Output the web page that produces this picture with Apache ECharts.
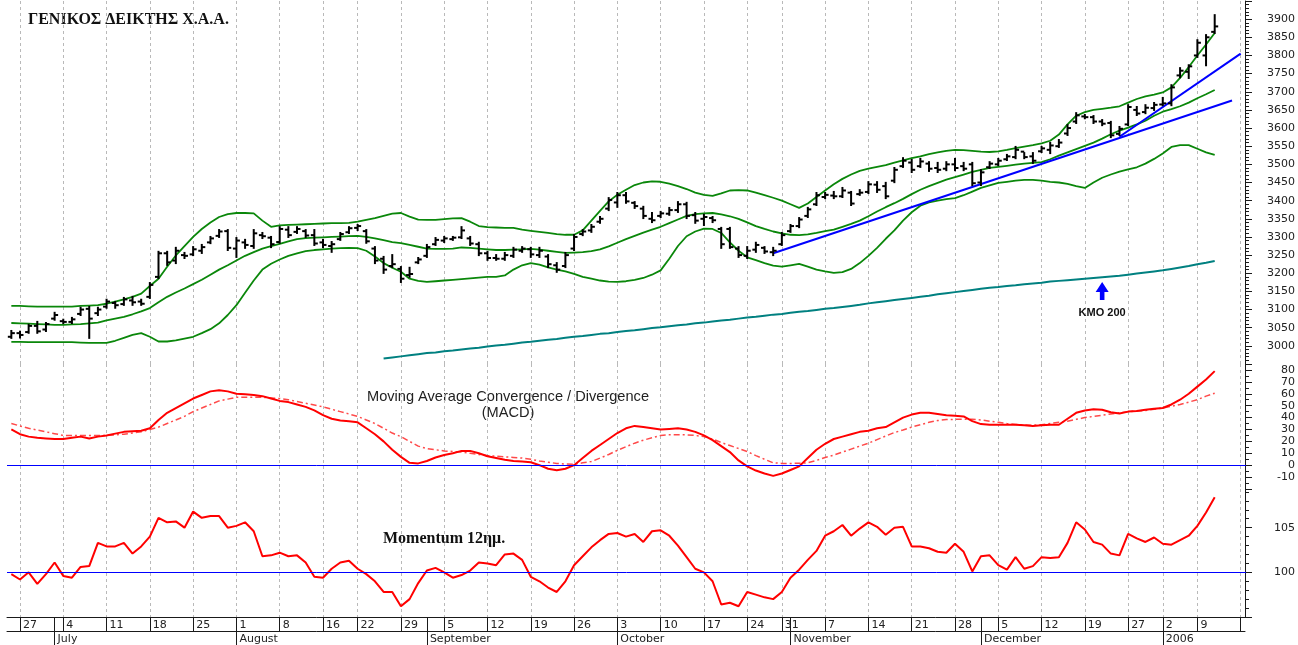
<!DOCTYPE html>
<html>
<head>
<meta charset="utf-8">
<title>ΓΕΝΙΚΟΣ ΔΕΙΚΤΗΣ Χ.Α.Α.</title>
<script src="https://cdn.jsdelivr.net/npm/echarts@6/dist/echarts.min.js"></script>
<style>
    html, body { margin: 0; padding: 0; background: #fff; }
    #chart { width: 1298px; height: 645px; }
</style>
</head>
<body>
<div id="chart"></div>
<script>
(function () {
    'use strict';

    // trading calendar (Athens exchange), three empty slots at the end
    var firstDay = '2005-06-24';
    var holidays = ['2005-08-15', '2005-10-28', '2005-12-26', '2006-01-06'];
    var slotCount = 143;
    var monthNames = ['2006', 'February', 'March', 'April', 'May', 'June', 'July',
                      'August', 'September', 'October', 'November', 'December'];

    // [open, close, low, high]
    var bars = [
        [3025,3035,3022,3041],[3035,3030,3023,3039],[3038,3055,3036,3058],[3055,3040,3036,3066],[3045,3060,3041,3063],
        [3075,3085,3072,3091],[3068,3066,3063,3072],[3066,3073,3063,3077],[3088,3100,3085,3105],[3102,3075,3022,3107],
        [3090,3100,3085,3105],[3108,3122,3105,3127],[3118,3112,3105,3121],[3115,3128,3113,3132],[3125,3120,3113,3135],
        [3122,3116,3113,3127],[3135,3168,3132,3173],[3190,3255,3187,3259],[3255,3230,3223,3259],[3235,3262,3228,3270],
        [3250,3248,3242,3256],[3252,3266,3250,3272],[3262,3272,3256,3278],[3285,3296,3283,3300],[3303,3315,3300,3319],
        [3316,3270,3264,3319],[3268,3290,3245,3297],[3285,3278,3270,3292],[3275,3310,3270,3319],[3305,3302,3297,3311],
        [3298,3280,3272,3300],[3286,3322,3284,3327],[3320,3305,3300,3327],[3314,3322,3311,3327],[3316,3304,3300,3319],
        [3305,3282,3278,3319],[3285,3278,3272,3292],[3275,3280,3259,3286],[3294,3308,3292,3311],[3313,3324,3311,3327],
        [3325,3330,3319,3333],[3316,3288,3284,3319],[3268,3235,3228,3272],[3240,3210,3201,3245],[3220,3225,3217,3250],
        [3212,3185,3176,3217],[3195,3198,3190,3215],[3230,3238,3228,3242],[3248,3272,3245,3278],[3280,3292,3278,3297],
        [3290,3296,3286,3300],[3294,3298,3292,3300],[3299,3318,3297,3327],[3296,3282,3278,3300],[3280,3255,3250,3284],
        [3255,3242,3237,3259],[3242,3240,3237,3250],[3240,3250,3237,3256],[3248,3265,3245,3270],[3262,3268,3259,3272],
        [3266,3252,3245,3270],[3250,3262,3245,3270],[3246,3225,3217,3250],[3222,3210,3204,3228],[3220,3250,3217,3256],
        [3268,3300,3264,3305],[3308,3315,3305,3319],[3318,3328,3314,3333],[3342,3350,3339,3355],[3378,3402,3374,3407],
        [3395,3415,3383,3421],[3415,3398,3394,3421],[3394,3385,3380,3396],[3378,3358,3352,3383],[3350,3346,3341,3366],
        [3358,3365,3355,3369],[3364,3374,3361,3380],[3374,3390,3369,3396],[3390,3358,3352,3394],[3360,3345,3339,3366],
        [3350,3355,3333,3361],[3352,3346,3341,3355],[3322,3280,3270,3325],[3322,3272,3270,3325],[3268,3250,3245,3272],
        [3248,3262,3242,3272],[3265,3278,3259,3284],[3270,3260,3256,3272],[3258,3262,3250,3270],[3280,3305,3278,3311],
        [3316,3330,3314,3333],[3330,3348,3327,3352],[3358,3376,3355,3380],[3390,3415,3388,3421],[3410,3416,3407,3421],
        [3414,3412,3407,3424],[3412,3428,3410,3435],[3422,3392,3388,3424],[3418,3422,3416,3429],[3424,3445,3421,3451],
        [3444,3430,3424,3451],[3440,3412,3407,3449],[3455,3485,3451,3490],[3495,3510,3493,3517],[3505,3485,3479,3512],
        [3495,3508,3493,3515],[3502,3488,3482,3506],[3490,3485,3479,3504],[3488,3500,3484,3506],[3500,3490,3484,3515],
        [3495,3488,3484,3504],[3500,3448,3443,3504],[3450,3478,3443,3484],[3492,3502,3490,3506],[3500,3510,3498,3515],
        [3514,3522,3512,3526],[3520,3540,3517,3548],[3535,3520,3517,3531],[3522,3510,3504,3531],[3536,3544,3534,3548],
        [3540,3552,3531,3559],[3550,3560,3548,3567],[3585,3600,3581,3608],[3618,3635,3614,3641],[3632,3630,3627,3636],
        [3630,3618,3614,3633],[3618,3612,3608,3622],[3614,3580,3575,3617],[3584,3598,3581,3603],[3610,3658,3608,3663],
        [3650,3640,3636,3658],[3644,3656,3641,3663],[3655,3664,3650,3669],[3665,3668,3663,3683],[3668,3712,3663,3718],
        [3745,3758,3740,3765],[3755,3770,3738,3773],[3800,3835,3796,3842],[3800,3850,3773,3856],[3865,3880,3862,3911]
    ];

    // Bollinger bands
    var bandUpper = [
        3110,3110,3109,3108,3108,3108,3108,3108,3110,3111, 3112,3116,3122,3128,3135,3144,3165,3185,3218,3249,
        3275,3300,3322,3340,3355,3363,3366,3366,3365,3345, 3328,3332,3333,3334,3335,3336,3337,3338,3338,3339,
        3342,3347,3352,3358,3364,3366,3356,3348,3347,3347, 3349,3351,3352,3342,3330,3327,3326,3325,3325,3320,
        3317,3314,3311,3308,3306,3306,3318,3345,3372,3398, 3416,3430,3443,3450,3453,3452,3447,3440,3432,3422,
        3416,3413,3420,3428,3429,3428,3422,3415,3408,3400, 3390,3380,3392,3410,3428,3445,3460,3472,3482,3488,
        3493,3498,3505,3511,3517,3522,3528,3533,3537,3540, 3539,3537,3535,3534,3536,3540,3545,3549,3553,3558,
        3565,3582,3610,3634,3644,3650,3653,3656,3660,3670, 3680,3687,3692,3698,3712,3738,3768,3800,3830,3862
    ];
    var bandMid = [
        3063,3062,3061,3060,3059,3058,3058,3059,3060,3062, 3064,3070,3075,3080,3087,3095,3104,3120,3135,3147,
        3158,3170,3182,3196,3210,3222,3235,3248,3258,3268, 3275,3281,3288,3294,3297,3298,3299,3300,3301,3302,
        3303,3300,3296,3291,3286,3283,3278,3273,3268,3267, 3267,3268,3271,3270,3268,3266,3264,3264,3265,3266,
        3267,3265,3262,3259,3256,3257,3258,3261,3266,3274, 3284,3294,3303,3312,3320,3328,3338,3348,3358,3363,
        3365,3366,3362,3357,3350,3340,3330,3322,3315,3310, 3306,3305,3307,3311,3316,3320,3328,3336,3345,3357,
        3370,3382,3393,3405,3418,3430,3440,3449,3458,3465, 3472,3479,3485,3490,3493,3496,3499,3502,3504,3506,
        3514,3524,3533,3542,3551,3560,3571,3583,3593,3601, 3610,3620,3634,3645,3652,3660,3670,3682,3693,3705
    ];
    var bandLower = [
        3011,3011,3010,3010,3010,3010,3010,3010,3009,3008, 3008,3008,3014,3022,3030,3035,3025,3012,3012,3015,
        3020,3025,3035,3046,3062,3085,3112,3146,3180,3210, 3226,3238,3248,3255,3261,3264,3266,3268,3269,3270,
        3269,3262,3246,3228,3215,3204,3185,3179,3176,3178, 3180,3182,3184,3186,3188,3190,3190,3194,3210,3222,
        3228,3224,3216,3210,3205,3198,3190,3185,3180,3177, 3176,3178,3182,3187,3196,3208,3240,3275,3302,3315,
        3323,3322,3311,3285,3262,3244,3236,3228,3221,3218, 3222,3226,3218,3210,3205,3201,3203,3212,3228,3248,
        3270,3295,3318,3345,3368,3386,3395,3400,3404,3407, 3415,3425,3435,3442,3449,3452,3455,3457,3457,3455,
        3452,3450,3446,3440,3435,3450,3463,3472,3480,3486, 3492,3502,3515,3530,3548,3553,3553,3543,3533,3526
    ];

    // 200-day moving average (KMO 200), starts at trading day 43
    var ma200Start = 43;
    var ma200 = [
        2965,2968,2971,2974,2977,2980,2982,
        2985,2987,2990,2993,2995,2998,3001,3003,3006,3009, 3011,3014,3017,3019,3022,3025,3027,3030,3033,3035,
        3038,3041,3043,3046,3049,3051,3054,3057,3059,3062, 3064,3067,3070,3072,3075,3078,3080,3083,3086,3088,
        3091,3094,3096,3099,3102,3104,3107,3110,3113,3117, 3120,3123,3126,3129,3132,3135,3138,3142,3145,3148,
        3151,3154,3157,3160,3162,3165,3167,3170,3172,3174, 3177,3179,3181,3183,3185,3187,3189,3191,3193,3196,
        3199,3202,3205,3208,3212,3216,3220,3225,3229,3234
    ];

    // trend lines: [day index, price]
    var trendLong = [[88, 3255], [141, 3676]];
    var trendSteep = [[128, 3576], [142, 3805]];
    var kmoArrow = [126, 3151];

    var macd = [
        30,26,24,23,22.5,22,22,23,24,22.5, 24,25,26.5,28,28.5,29,31,38,44,48,
        52,56,59,62,63,62,60,59.5,59,58, 56,54,53,51,49,46,42,39,37.5,37,
        36,31,26,20,13,7,2,1.5,3.5,6.5, 8.5,10,12,12,10,7.5,6,4.5,3.5,3,
        2.5,0,-3,-4.2,-3,0,6,12,17,22, 27,31,33,32,31,30,30.5,31,30,28,
        25,21,16,11,4,-1,-4.5,-7,-9,-7, -4,-1,6,13,18,22,24,26,28,29,
        31,32,36,40,42.5,44,44,43,42,41.5, 41,37,34.5,34,34,34,34,33.5,33,33.5,
        34,34,39,44,46,47,46.5,44.5,43.5,45, 45.5,46.5,47.5,48,51,55,60,66,72,79
    ];
    var macdSignal = [
        35,33,31,29.5,28,26.5,25,25,25,25, 25,25,25.5,26,27,28,30,32,35,38,
        41,45,48,51,54,55.5,57,57,57,57, 56.5,56,55,53.5,52,50.5,49,47,45,43,
        41,38,35,31,27,24,20,16,14,13, 12,11.5,11,10,9,8,7.6,7,6.5,6,
        5,3.5,2.5,1.5,1,0.8,2,3,6,9, 12.5,15.5,18.5,21,23,25,25.5,25.5,25.5,25,
        24,22,19,16.5,14,11.5,8,5,2,1.5, 1.5,1.6,2,4,6.5,8.5,11,13.5,16,18.5,
        21.5,24.5,27.5,29.5,32,34,36,37.5,38.3,38.5, 38.6,38.6,38,37,36,35,34.2,33.8,33.6,34,
        35,36,37,38.5,40,41,42,43,44,45, 45.5,46,47,48,49.5,51,53,55,58,60.5
    ];
    var macdBase = 0;

    var momentum = [
        99.8,99.2,100,98.7,99.8,101.1,99.6,99.4,100.6,100.7, 103.3,102.9,102.9,103.3,102.1,102.9,104,106.1,105.6,105.7,
        105,106.8,106.1,106.3,106.3,105,105.2,105.6,104.6,101.8, 101.9,102.2,101.8,101.9,101.1,99.5,99.4,100.4,101.1,101.3,
        100.4,99.8,99,97.8,97.8,96.2,97,98.8,100.2,100.5, 100,99.4,99.7,100.2,101.1,101,100.8,102,102.1,101.4,
        99.5,99,98.3,97.8,99,100.8,101.8,102.8,103.6,104.3, 104.4,104,104.3,103.4,104.6,104.7,104.1,103,101.7,100.4,
        100,99,96.4,96.6,96.2,97.8,97.5,97.2,97,97.8, 99.4,100.3,101.4,102.4,104.1,104.6,105.3,104.1,104.9,105.6,
        105.1,104.2,105,105.1,102.9,102.9,102.7,102.3,102.2,103.2, 102.3,100.1,101.8,101.9,100.8,100.3,101.7,100.4,100.7,101.7,
        101.6,101.7,103.3,105.6,104.8,103.4,103.1,102.1,101.9,104.3, 103.8,103.4,103.9,103.2,103.1,103.6,104.1,105.2,106.7,108.4
    ];
    var momentumBase = 100;

    var priceLabels = [3000, 3900];
    var macdLabels = [-10, 80];
    var momentumLabels = [100, 105];

    var RED = '#ff0000';
    var BLUE = '#0000ff';
    var GREEN = '#0a870a';
    var INK = '#1a1a1a';
    var LABEL_FONT = 'DejaVu Sans';
    var PLOT_LEFT = 7, PLOT_RIGHT = 52;

    // ---- calendar ----
    var days = [];
    var d = new Date(firstDay + 'T00:00:00Z');
    while (days.length < slotCount) {
        var iso = d.toISOString().slice(0, 10);
        var wd = d.getUTCDay();
        if (wd !== 0 && wd !== 6 && holidays.indexOf(iso) < 0) days.push(iso);
        d.setUTCDate(d.getUTCDate() + 1);
    }
    var weekStart = days.map(function (s, i) {
        if (i === 0) return false;
        return new Date(s + 'T00:00:00Z').getUTCDay() < new Date(days[i - 1] + 'T00:00:00Z').getUTCDay();
    });
    var monthStart = days.map(function (s, i) {
        return i > 0 && s.slice(5, 7) !== days[i - 1].slice(5, 7);
    });

    var gridLines = {
        show: true,
        alignWithLabel: true,
        interval: function (i) { return weekStart[i]; },
        lineStyle: { color: '#b9b9b9', type: [3, 3], width: 1 }
    };

    function plainXAxis(gridIndex) {
        return {
            type: 'category', gridIndex: gridIndex, data: days,
            axisLine: { show: false, onZero: false },
            axisTick: { show: false }, axisLabel: { show: false },
            splitLine: gridLines
        };
    }

    function rightAxis(gridIndex, min, max, step, minorSplit, showLabel) {
        return {
            type: 'value', gridIndex: gridIndex, position: 'right',
            min: min, max: max, interval: step,
            axisLine: { show: true, onZero: false, lineStyle: { color: INK, width: 1 } },
            axisTick: { show: true, length: 7, lineStyle: { color: INK } },
            minorTick: { show: true, splitNumber: minorSplit, length: 4, lineStyle: { color: INK } },
            splitLine: { show: false },
            minorSplitLine: { show: false },
            axisLabel: {
                margin: 50, align: 'right', color: '#222',
                fontFamily: LABEL_FONT, fontSize: 11,
                formatter: function (v) { return showLabel(v) ? String(v) : ''; }
            }
        };
    }

    function lineSeries(name, data, color, width, xi, extra) {
        var s = {
            name: name, type: 'line', xAxisIndex: xi, yAxisIndex: xi,
            data: data, symbol: 'none', silent: true,
            lineStyle: { color: color, width: width },
            itemStyle: { color: color },
            z: 3
        };
        if (extra) Object.keys(extra).forEach(function (k) { s[k] = extra[k]; });
        return s;
    }

    function renderBar(params, api) {
        var x = api.value(0);
        var o = api.coord([x, api.value(1)]);
        var c = api.coord([x, api.value(2)]);
        var l = api.coord([x, api.value(3)]);
        var h = api.coord([x, api.value(4)]);
        var w = 3.5;
        var st = { stroke: '#000', lineWidth: 2 };
        return {
            type: 'group',
            children: [
                { type: 'line', shape: { x1: h[0], y1: h[1] - 1, x2: l[0], y2: l[1] + 1 }, style: st },
                { type: 'line', shape: { x1: o[0] - w, y1: o[1], x2: o[0], y2: o[1] }, style: st },
                { type: 'line', shape: { x1: c[0], y1: c[1], x2: c[0] + w, y2: c[1] }, style: st }
            ]
        };
    }

    var texts = [
        {
            type: 'text', x: 28, y: 20,
            style: { text: 'ΓΕΝΙΚΟΣ ΔΕΙΚΤΗΣ Χ.Α.Α.', font: 'bold 16px "Liberation Serif"', fill: '#111', verticalAlign: 'middle' }
        },
        {
            type: 'text', x: 508, y: 397,
            style: { text: 'Moving Average Convergence / Divergence', font: '14.6px "Liberation Sans"', fill: '#222', align: 'center', verticalAlign: 'middle' }
        },
        {
            type: 'text', x: 508, y: 413,
            style: { text: '(MACD)', font: '14.6px "Liberation Sans"', fill: '#222', align: 'center', verticalAlign: 'middle' }
        },
        {
            type: 'text', x: 383, y: 539,
            style: { text: 'Momentum 12ημ.', font: 'bold 16px "Liberation Serif"', fill: '#111', verticalAlign: 'middle' }
        }
    ];

    var chart = echarts.init(document.getElementById('chart'));
    chart.setOption({
        animation: false,
        backgroundColor: '#fff',
        grid: [
            { left: PLOT_LEFT, right: PLOT_RIGHT, top: 1, height: 363 },
            { left: PLOT_LEFT, right: PLOT_RIGHT, top: 364, height: 125 },
            { left: PLOT_LEFT, right: PLOT_RIGHT, top: 489, height: 129 }
        ],
        xAxis: [
            plainXAxis(0),
            plainXAxis(1),
            {
                type: 'category', gridIndex: 2, data: days, position: 'bottom',
                axisLine: { show: true, onZero: false, lineStyle: { color: INK, width: 1 } },
                axisTick: {
                    show: true, alignWithLabel: true, length: 14,
                    interval: function (i) { return weekStart[i] || monthStart[i]; },
                    lineStyle: { color: INK }
                },
                axisLabel: {
                    interval: function (i) { return weekStart[i] && i < bars.length; },
                    formatter: function (v) { return String(Number(v.slice(8, 10))); },
                    align: 'left', padding: [0, 0, 0, 3], margin: 3,
                    color: '#222', fontFamily: LABEL_FONT, fontSize: 11
                },
                splitLine: gridLines
            },
            {
                type: 'category', gridIndex: 2, data: days, position: 'bottom', offset: 14,
                axisLine: { show: true, onZero: false, lineStyle: { color: INK, width: 1 } },
                axisTick: {
                    show: true, alignWithLabel: true, length: 14,
                    interval: function (i) { return monthStart[i]; },
                    lineStyle: { color: INK }
                },
                axisLabel: {
                    interval: function (i) { return monthStart[i]; },
                    formatter: function (v) { return monthNames[Number(v.slice(5, 7)) - 1]; },
                    align: 'left', padding: [0, 0, 0, 3], margin: 3,
                    color: '#222', fontFamily: LABEL_FONT, fontSize: 11
                },
                splitLine: { show: false }
            }
        ],
        yAxis: [
            rightAxis(0, 2950, 3950, 50, 5, function (v) { return v >= priceLabels[0] && v <= priceLabels[1]; }),
            rightAxis(1, -20, 85, 10, 2, function (v) { return v >= macdLabels[0] && v <= macdLabels[1]; }),
            rightAxis(2, 95, 109.33, 5, 5, function (v) { return momentumLabels.indexOf(v) >= 0; })
        ],
        graphic: texts,
        series: [
            lineSeries('upper', bandUpper, GREEN, 1.8, 0),
            lineSeries('mid', bandMid, GREEN, 1.8, 0),
            lineSeries('lower', bandLower, GREEN, 1.8, 0),
            lineSeries('ma200', ma200.map(function (v, k) { return [ma200Start + k, v]; }), '#008080', 2, 0, {
                markPoint: {
                    silent: true, animation: false,
                    symbol: 'path://M6.5,0L13,10L8.8,10L8.8,18L4.2,18L4.2,10L0,10Z',
                    symbolSize: [13, 18],
                    itemStyle: { color: BLUE },
                    label: {
                        show: true, position: 'bottom', distance: 7, formatter: 'KMO 200',
                        color: '#111', fontFamily: 'Liberation Sans', fontWeight: 'bold', fontSize: 11
                    },
                    data: [{ coord: kmoArrow }]
                }
            }),
            lineSeries('trendLong', trendLong, BLUE, 2, 0, { z: 4 }),
            lineSeries('trendSteep', trendSteep, BLUE, 2, 0, { z: 4 }),
            {
                name: 'index', type: 'custom', xAxisIndex: 0, yAxisIndex: 0,
                renderItem: renderBar, silent: true, z: 5,
                encode: { x: 0, y: [1, 2, 3, 4] },
                data: bars.map(function (b, i) { return [i, b[0], b[1], b[2], b[3]]; })
            },
            lineSeries('signal', macdSignal, '#ff4a4a', 1.5, 1, {
                lineStyle: { color: '#ff4a4a', width: 1.5, type: [6, 3, 2, 3] }
            }),
            lineSeries('macd', macd, RED, 2, 1, { z: 4 }),
            lineSeries('momentum', momentum, RED, 2, 2, { z: 4 })
        ]
    });

    // blue reference lines (MACD zero, momentum 100), placed through the panels' value axes
    function baseLine(yAxisIndex, value) {
        var y = Math.round(chart.convertToPixel({ yAxisIndex: yAxisIndex }, value)) + 0.5;
        return {
            type: 'line', silent: true, z: 100, zlevel: 2,
            shape: { x1: PLOT_LEFT, y1: y, x2: 1298 - PLOT_RIGHT, y2: y },
            style: { stroke: BLUE, lineWidth: 1 }
        };
    }
    chart.setOption({
        graphic: texts.concat([baseLine(1, macdBase), baseLine(2, momentumBase)])
    });
})();
</script>
</body>
</html>
